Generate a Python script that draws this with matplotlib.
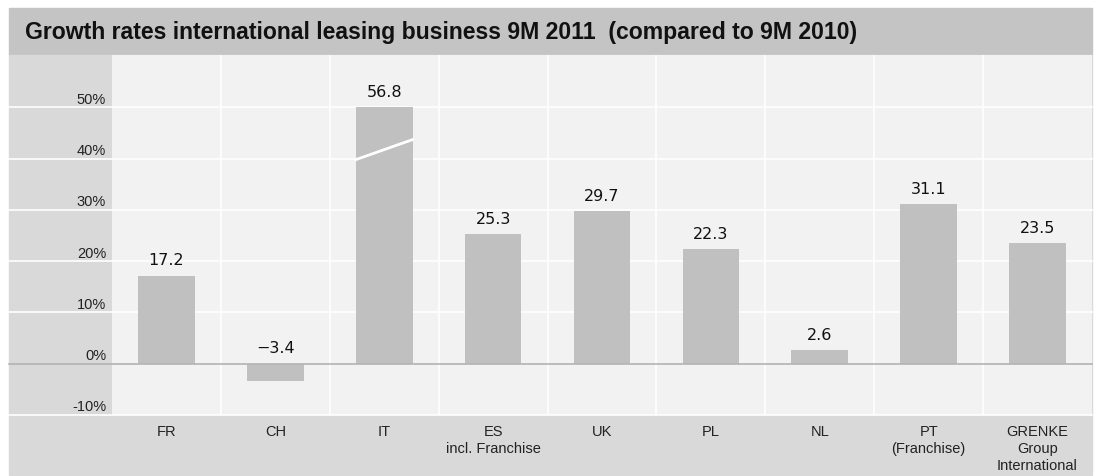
import matplotlib.pyplot as plt
from matplotlib.patches import Rectangle

categories = ["FR", "CH", "IT", "ES\nincl. Franchise", "UK", "PL", "NL",
              "PT\n(Franchise)", "GRENKE\nGroup\nInternational"]
values = [17.2, -3.4, 56.8, 25.3, 29.7, 22.3, 2.6, 31.1, 23.5]
value_labels = ["17.2", "\u22123.4", "56.8", "25.3", "29.7", "22.3", "2.6", "31.1", "23.5"]
y_ticks = [-10, 0, 10, 20, 30, 40, 50]
axis_cap = 50  # bars above this are cut with a break mark
title = "Growth rates international leasing business 9M 2011  (compared to 9M 2010)"

W, H = 1101, 477
narrow = ["Liberation Sans Narrow", "Liberation Sans", "DejaVu Sans"]

fig = plt.figure(figsize=(W / 100, H / 100), dpi=100)
fig.patch.set_facecolor("white")


def fx(px):
    return px / W


def fy(py):
    return 1 - py / H


# background strips
fig.patches.append(Rectangle((fx(9), fy(56)), fx(1092) - fx(9), fy(9) - fy(56),
                             transform=fig.transFigure, color="#c4c4c4", zorder=-5))
fig.patches.append(Rectangle((fx(9), fy(476)), fx(1092) - fx(9), fy(56) - fy(476),
                             transform=fig.transFigure, color="#d9d9d9", zorder=-5))

ax = fig.add_axes([fx(112), fy(416), fx(1092) - fx(112), fy(56) - fy(416)])
ax.set_zorder(2)
ax.set_facecolor("#f2f2f2")
ax.set_xlim(-0.5, len(categories) - 0.5)
ax.set_ylim(-10, 60.2)
for s in ax.spines.values():
    s.set_visible(False)
ax.set_xticks([])
ax.set_yticks([])

# grid lines, extended over the label strip
left_ext = (9 - 112) / (1092 - 112)
for t in y_ticks:
    ax.axhline(t, xmin=left_ext, xmax=1, color="#b3b3b3" if t == 0 else "white",
               lw=1.2, clip_on=False, zorder=3 if t == 0 else 1)
    ax.text(-0.006, t + 0.3, f"{t}%", transform=ax.get_yaxis_transform(),
            ha="right", va="bottom", fontsize=10.5, family=narrow, color="#222222")

for i in range(len(categories) - 1):
    ax.axvline(i + 0.5, color="white", lw=1.2, zorder=1)

x = range(len(categories))
shown = [min(v, axis_cap) for v in values]
ax.bar(x, shown, width=0.52, color="#c0c0c0", zorder=2)

for i, (v, lab) in enumerate(zip(shown, value_labels)):
    ax.annotate(lab, (i, max(v, 0)), xytext=(0, 6), textcoords="offset points",
                ha="center", va="bottom", fontsize=11.5, color="#111111")
    if values[i] > axis_cap:
        ax.plot([i - 0.26, i + 0.26], [39.8, 43.7], color="white", lw=2, zorder=4)

for i, c in enumerate(categories):
    ax.text(i, -11.8, c, ha="center", va="top", fontsize=10.5, family=narrow,
            color="#222222", linespacing=1.25)

fig.text(fx(25), fy(33), title, ha="left", va="center", fontsize=16.6,
         fontweight="bold", family=narrow, color="#111111")

fig.savefig("out.png", dpi=100)
